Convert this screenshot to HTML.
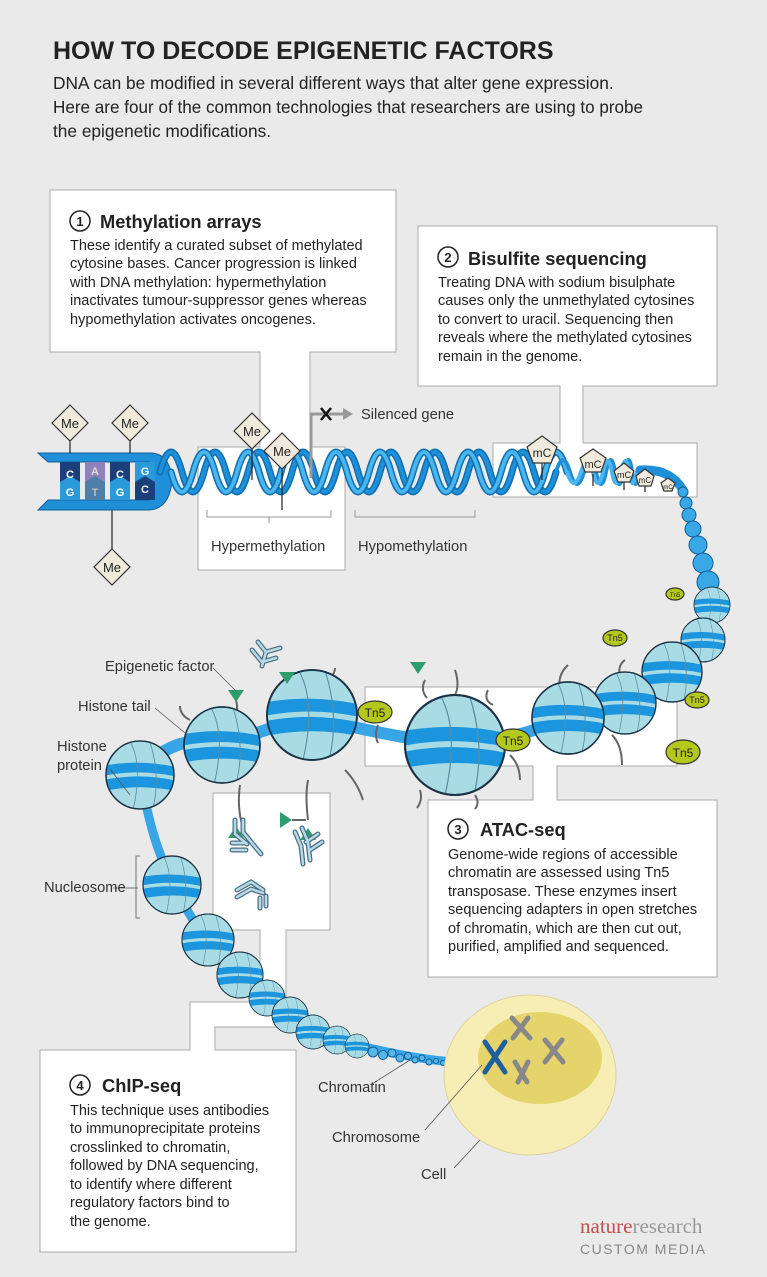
<!DOCTYPE html>
<html><head><meta charset="utf-8"><style>
html,body{margin:0;padding:0;background:#ebeaea}
svg{display:block}
text{font-family:"Liberation Sans",sans-serif;fill:#222}
.b{font-size:14.5px}
.h{font-size:18.3px;font-weight:bold}
.l{font-size:14.7px;fill:#333}
</style></head><body>
<svg width="767" height="1277" viewBox="0 0 767 1277" xmlns="http://www.w3.org/2000/svg">
<rect width="767" height="1277" fill="#ebeaea"/>
<text x="53" y="59" style="font-size:25px;font-weight:bold">HOW TO DECODE EPIGENETIC FACTORS</text>
<text x="53" y="89" style="font-size:17.3px">DNA can be modified in several different ways that alter gene expression.</text>
<text x="53" y="113" style="font-size:17.1px">Here are four of the common technologies that researchers are using to probe</text>
<text x="53" y="137" style="font-size:17.3px">the epigenetic modifications.</text>

<g fill="#fff" stroke="#aaa" stroke-width="1">
<path d="M50 190H396V352H310V447H345V570H198V447H260V352H50Z"/>
<path d="M418 226H717V386H583V443H697V497H493V443H560V386H418Z"/>
<path d="M365 687H677V766H557V800H717V977H428V800H533V766H365Z"/>
<path d="M213 793H330V930H286V1027H215V1050H296V1252H40V1050H190V1002H260V930H213Z"/>
</g>

<circle cx="80" cy="221" r="10" fill="#fff" stroke="#222" stroke-width="1.5"/><text x="80" y="226" text-anchor="middle" style="font-size:13px;font-weight:bold">1</text>
<text x="100" y="228" class="h">Methylation arrays</text>
<text x="70" y="250" class="b">These identify a curated subset of methylated</text>
<text x="70" y="268" class="b">cytosine bases. Cancer progression is linked</text>
<text x="70" y="287" class="b">with DNA methylation: hypermethylation</text>
<text x="70" y="305" class="b">inactivates tumour-suppressor genes whereas</text>
<text x="70" y="324" class="b">hypomethylation activates oncogenes.</text>

<circle cx="448" cy="257" r="10" fill="#fff" stroke="#222" stroke-width="1.5"/><text x="448" y="262" text-anchor="middle" style="font-size:13px;font-weight:bold">2</text>
<text x="468" y="265" class="h">Bisulfite sequencing</text>
<text x="438" y="287" class="b">Treating DNA with sodium bisulphate</text>
<text x="438" y="305" class="b">causes only the unmethylated cytosines</text>
<text x="438" y="324" class="b">to convert to uracil. Sequencing then</text>
<text x="438" y="342" class="b">reveals where the methylated cytosines</text>
<text x="438" y="361" class="b">remain in the genome.</text>

<circle cx="458" cy="829" r="10" fill="#fff" stroke="#222" stroke-width="1.5"/><text x="458" y="834" text-anchor="middle" style="font-size:13px;font-weight:bold">3</text>
<text x="480" y="836" class="h">ATAC-seq</text>
<text x="448" y="859" class="b">Genome-wide regions of accessible</text>
<text x="448" y="877" class="b">chromatin are assessed using Tn5</text>
<text x="448" y="896" class="b">transposase. These enzymes insert</text>
<text x="448" y="914" class="b">sequencing adapters in open stretches</text>
<text x="448" y="933" class="b">of chromatin, which are then cut out,</text>
<text x="448" y="951" class="b">purified, amplified and sequenced.</text>

<circle cx="80" cy="1085" r="10" fill="#fff" stroke="#222" stroke-width="1.5"/><text x="80" y="1090" text-anchor="middle" style="font-size:13px;font-weight:bold">4</text>
<text x="102" y="1092" class="h">ChIP-seq</text>
<text x="70" y="1115" class="b">This technique uses antibodies</text>
<text x="70" y="1133" class="b">to immunoprecipitate proteins</text>
<text x="70" y="1152" class="b">crosslinked to chromatin,</text>
<text x="70" y="1170" class="b">followed by DNA sequencing,</text>
<text x="70" y="1189" class="b">to identify where different</text>
<text x="70" y="1207" class="b">regulatory factors bind to</text>
<text x="70" y="1226" class="b">the genome.</text>

<!-- DNA ladder -->
<path d="M38 453H150Q170 453 172 480Q170 508 150 510H38L48 500H150V462H48Z" fill="#1f8fd8" stroke="#145f99" stroke-width="1"/>
<g>
<path d="M60 462h20v22l-10 -6l-10 6z" fill="#1b3f7a"/>
<path d="M85 462h20v22l-10 -6l-10 6z" fill="#8f82b8"/>
<path d="M110 462h20v22l-10 -6l-10 6z" fill="#1b3f7a"/>
<path d="M135 462h20v22l-10 -6l-10 6z" fill="#2a9ad8"/>
<path d="M60 500h20v-18l-10 -6l-10 6z" fill="#2a9ad8"/>
<path d="M85 500h20v-18l-10 -6l-10 6z" fill="#4f7ea8"/>
<path d="M110 500h20v-18l-10 -6l-10 6z" fill="#2a9ad8"/>
<path d="M135 500h20v-18l-10 -6l-10 6z" fill="#1b3f7a"/>
</g>
<g style="font-size:11px;font-weight:bold" text-anchor="middle">
<text x="70" y="478" style="fill:#fff">C</text><text x="95" y="475" style="fill:#ddd">A</text><text x="120" y="478" style="fill:#fff">C</text><text x="145" y="475" style="fill:#fff">G</text>
<text x="70" y="496" style="fill:#fff">G</text><text x="95" y="496" style="fill:#bbb">T</text><text x="120" y="496" style="fill:#fff">G</text><text x="145" y="493" style="fill:#fff">C</text>
</g>

<!-- helix -->
<g fill="none" stroke-linecap="round">
<path d="M160 472Q171 432 182 472T204 472T226 472T248 472T270 472T292 472T314 472T336 472T358 472T380 472T402 472T424 472T446 472T468 472T490 472T512 472T534 472T556 472" stroke="#0f6fb0" stroke-width="7"/>
<path d="M160 472Q171 432 182 472T204 472T226 472T248 472T270 472T292 472T314 472T336 472T358 472T380 472T402 472T424 472T446 472T468 472T490 472T512 472T534 472T556 472" stroke="#1f8fd8" stroke-width="4"/>
<path d="M171 472Q182 512 193 472T215 472T237 472T259 472T281 472T303 472T325 472T347 472T369 472T391 472T413 472T435 472T457 472T479 472T501 472T523 472T545 472T567 472" stroke="#0f6fb0" stroke-width="7"/>
<path d="M171 472Q182 512 193 472T215 472T237 472T259 472T281 472T303 472T325 472T347 472T369 472T391 472T413 472T435 472T457 472T479 472T501 472T523 472T545 472T567 472" stroke="#4ab6ee" stroke-width="4"/>
<path d="M556 472Q563 448 570 472T584 472T596 472T606 472T615 472T624 472T632 472T640 472" stroke="#1f8fd8" stroke-width="4"/>
<path d="M567 472Q574 494 581 472T593 472T603 472T612 472T621 472T629 472T637 472" stroke="#4ab6ee" stroke-width="4"/>
<path d="M640 470Q670 468 683 490" stroke="#1f8fd8" stroke-width="9"/>
</g>
<g fill="#3aa8e6" stroke="#0f5f95" stroke-width="1">
<circle cx="683" cy="492" r="5"/><circle cx="686" cy="503" r="6"/><circle cx="689" cy="515" r="7"/><circle cx="693" cy="529" r="8"/><circle cx="698" cy="545" r="9"/><circle cx="703" cy="563" r="10"/><circle cx="708" cy="582" r="11"/>
</g>

<!-- Me diamonds -->
<g stroke="#222" stroke-width="1.2">
<line x1="70" y1="436" x2="70" y2="453"/><line x1="130" y1="436" x2="130" y2="453"/><line x1="112" y1="510" x2="112" y2="550"/>
<line x1="252" y1="445" x2="252" y2="480"/><line x1="282" y1="466" x2="282" y2="510"/>
</g>
<g fill="#efeadb" stroke="#333" stroke-width="1.2">
<path d="M70 405l18 18-18 18-18-18z"/><path d="M130 405l18 18-18 18-18-18z"/><path d="M112 549l18 18-18 18-18-18z"/>
<path d="M252 413l18 18-18 18-18-18z"/><path d="M282 433l18 18-18 18-18-18z"/>
</g>
<g style="font-size:13px" text-anchor="middle"><text x="70" y="428">Me</text><text x="130" y="428">Me</text><text x="112" y="572">Me</text><text x="252" y="436">Me</text><text x="282" y="456">Me</text></g>
<path d="M311 478V414H345" fill="none" stroke="#999" stroke-width="3"/>
<path d="M343 408l10 6-10 6z" fill="#999"/>
<path d="M321 408l10 12M331 408l-10 12" stroke="#111" stroke-width="2.5"/>
<text x="361" y="419" class="l">Silenced gene</text>
<path d="M207 510v7h124v-7M269 517v6" fill="none" stroke="#999"/>
<path d="M355 510v7h120v-7" fill="none" stroke="#999"/>
<text x="211" y="551" class="l">Hypermethylation</text>
<text x="358" y="551" class="l">Hypomethylation</text>

<!-- mC -->
<g stroke="#222" stroke-width="1.2"><line x1="542" y1="460" x2="542" y2="480"/><line x1="593" y1="474" x2="593" y2="486"/><line x1="624" y1="480" x2="624" y2="490"/><line x1="645" y1="485" x2="645" y2="492"/></g>
<g fill="#efeadb" stroke="#333" stroke-width="1.2">
<path d="M542 436l15 11-6 16h-18l-6-16z"/><path d="M593 449l13 9-5 14h-16l-5-14z"/><path d="M624 463l10 8-4 11h-12l-4-11z"/><path d="M645 469l9 7-3 10h-12l-3-10z"/><path d="M668 478l7 5-3 8h-8l-3-8z"/>
</g>
<g text-anchor="middle"><text x="542" y="457" style="font-size:12px">mC</text><text x="593" y="468" style="font-size:11px">mC</text><text x="624" y="478" style="font-size:9px">mC</text><text x="645" y="483" style="font-size:8px">mC</text><text x="668" y="489" style="font-size:6px">mC</text></g>

<!-- linker DNA -->
<path d="M140 770Q180 730 225 745Q260 730 312 717Q380 735 455 745Q520 740 572 715Q610 710 625 700Q660 690 670 670Q690 650 700 640Q705 620 712 605" fill="none" stroke="#37a5e6" stroke-width="12"/>
<path d="M140 770Q150 840 172 880Q190 920 208 940Q230 965 240 975Q260 990 268 998Q320 1030 360 1046Q420 1060 455 1062" fill="none" stroke="#37a5e6" stroke-width="9"/>

<!-- tails -->
<g fill="none" stroke="#666" stroke-width="2">
<path d="M236 700q3 10-2 20"/><path d="M290 684q-5 10 0 20"/><path d="M190 720q-10-5-10-14"/><path d="M330 678q5-5 5-10"/><path d="M308 780q-3 15 0 40"/><path d="M345 770q12 12 18 30"/>
<path d="M425 680q-5 10 2 18"/><path d="M455 670q5 15 0 25"/><path d="M488 690q-5 10 5 15"/><path d="M378 725q-4 10 0 18"/><path d="M420 790q3 10 -3 18"/><path d="M475 795q5 8 0 14"/><path d="M510 755q10 10 10 25"/><path d="M560 690q-3-15 8-25"/><path d="M620 680q-3-15 5-20"/><path d="M612 735q10 10 10 30"/>
<path d="M240 785q-3 20 2 40"/>
</g>

<!-- nucleosomes -->
<defs>
<clipPath id="c1"><circle r="1"/></clipPath>
<g id="nuc">
<circle r="1" fill="#a9dbe5" stroke="#1b3344" stroke-width="0.04"/>
<g clip-path="url(#c1)">
<path d="M-1.2 -0.25Q0 -0.5 1.2 -0.2V0.08Q0 -0.22 -1.2 0.05Z" fill="#1b95dd"/>
<path d="M-1.2 0.17Q0 -0.1 1.2 0.2V0.5Q0 0.22 -1.2 0.5Z" fill="#1b95dd"/>
<path d="M-0.3 -1Q0.1 -0.3 -0.2 1M0.3 -0.95Q0.6 0 0.4 0.9" fill="none" stroke="#5a8ea0" stroke-width="0.025"/>
</g>
<circle r="1" fill="none" stroke="#1b3344" stroke-width="0.04"/>
</g>
</defs>
<g>
<use href="#nuc" transform="translate(712,605) scale(18)"/>
<use href="#nuc" transform="translate(703,640) scale(22)"/>
<use href="#nuc" transform="translate(672,672) scale(30)"/>
<use href="#nuc" transform="translate(625,703) scale(31)"/>
<use href="#nuc" transform="translate(568,718) scale(36)"/>
<use href="#nuc" transform="translate(455,745) scale(50)"/>
<use href="#nuc" transform="translate(312,715) scale(45)"/>
<use href="#nuc" transform="translate(222,745) scale(38)"/>
<use href="#nuc" transform="translate(140,775) scale(34)"/>
<use href="#nuc" transform="translate(172,885) scale(29)"/>
<use href="#nuc" transform="translate(208,940) scale(26)"/>
<use href="#nuc" transform="translate(240,975) scale(23)"/>
<use href="#nuc" transform="translate(267,998) scale(18)"/>
<use href="#nuc" transform="translate(290,1015) scale(18)"/>
<use href="#nuc" transform="translate(313,1032) scale(17)"/>
<use href="#nuc" transform="translate(337,1040) scale(14)"/>
<use href="#nuc" transform="translate(357,1046) scale(12)"/>
</g>
<g fill="#58b6e8" stroke="#0f5f95" stroke-width="1">
<circle cx="373" cy="1052" r="5"/><circle cx="383" cy="1055" r="4.5"/><circle cx="392" cy="1053" r="4"/><circle cx="400" cy="1058" r="4"/><circle cx="408" cy="1056" r="3.5"/><circle cx="415" cy="1060" r="3"/><circle cx="422" cy="1058" r="3"/><circle cx="429" cy="1062" r="3"/><circle cx="436" cy="1061" r="2.5"/><circle cx="443" cy="1063" r="2.5"/><circle cx="449" cy="1062" r="2.5"/>
</g>

<!-- triangles -->
<g fill="#2e9d6c">
<path d="M228 690h16l-8 12z"/><path d="M279 672h16l-8 12z"/><path d="M410 662h16l-8 12z"/>
<path d="M280 812v16l12-8z"/><path d="M300 840h16l-8-12z"/><path d="M228 838h16l-8-12z"/>
</g>
<line x1="292" y1="820" x2="306" y2="820" stroke="#333" stroke-width="1.5"/>

<!-- antibodies -->
<g fill="none" stroke="#4a6f84" stroke-width="5" stroke-linecap="round">
<path d="M258 642l8 10l-4 14M266 652l14-4M252 650l10 12M262 662l14-4"/>
<path d="M235 820v14l12 10M243 820v12l18 22M232 843h14M232 850h14"/>
<path d="M295 832l6 14l2 18M302 828l6 14l2 18M306 842l12-8M310 850l12-8"/>
<path d="M237 890l14-8l12 8M237 897l14-8l12 4M260 898v10M266 896v10"/>
</g>
<g fill="none" stroke="#b7d9e8" stroke-width="2.5" stroke-linecap="round">
<path d="M258 642l8 10l-4 14M266 652l14-4M252 650l10 12M262 662l14-4"/>
<path d="M235 820v14l12 10M243 820v12l18 22M232 843h14M232 850h14"/>
<path d="M295 832l6 14l2 18M302 828l6 14l2 18M306 842l12-8M310 850l12-8"/>
<path d="M237 890l14-8l12 8M237 897l14-8l12 4M260 898v10M266 896v10"/>
</g>

<!-- Tn5 -->
<g fill="#b3c81c" stroke="#333" stroke-width="1.2">
<ellipse cx="375" cy="712" rx="17" ry="11"/><ellipse cx="513" cy="740" rx="17" ry="11"/><ellipse cx="683" cy="752" rx="17" ry="12"/>
<ellipse cx="615" cy="638" rx="12" ry="8"/><ellipse cx="697" cy="700" rx="12" ry="8"/><ellipse cx="675" cy="594" rx="9" ry="6"/>
</g>
<g text-anchor="middle"><text x="375" y="717" style="font-size:12px">Tn5</text><text x="513" y="745" style="font-size:12px">Tn5</text><text x="683" y="757" style="font-size:12px">Tn5</text><text x="615" y="641" style="font-size:9px">Tn5</text><text x="697" y="703" style="font-size:9px">Tn5</text><text x="675" y="597" style="font-size:6px">Tn5</text></g>

<!-- cell -->
<ellipse cx="530" cy="1075" rx="86" ry="80" fill="#f6eeb5" stroke="#ddd2a0"/>
<ellipse cx="540" cy="1058" rx="62" ry="46" fill="#e5d46c"/>
<g stroke-linecap="round" stroke-width="5" fill="none">
<path d="M485 1042l20 30M505 1042l-20 30" stroke="#1f5f9e"/>
<path d="M512 1018l18 20M528 1018l-15 20" stroke="#888"/>
<path d="M545 1040l18 22M562 1040l-17 22" stroke="#888"/>
<path d="M515 1062l12 20M528 1062l-10 20" stroke="#888"/>
</g>

<g stroke="#555" stroke-width="0.8" fill="none">
<line x1="213" y1="668" x2="236" y2="691"/><line x1="155" y1="708" x2="185" y2="733"/><line x1="110" y1="769" x2="130" y2="795"/>
<path d="M113 888h25M140 856h-4v62h4"/>
<line x1="372" y1="1084" x2="410" y2="1060"/><line x1="425" y1="1130" x2="482" y2="1065"/><line x1="454" y1="1168" x2="480" y2="1140"/>
</g>
<text x="105" y="671" class="l">Epigenetic factor</text>
<text x="78" y="711" class="l">Histone tail</text>
<text x="57" y="751" class="l">Histone</text>
<text x="57" y="770" class="l">protein</text>
<text x="44" y="892" class="l">Nucleosome</text>
<text x="318" y="1092" class="l">Chromatin</text>
<text x="332" y="1142" class="l">Chromosome</text>
<text x="421" y="1179" class="l">Cell</text>

<text x="580" y="1233" style="font-family:'Liberation Serif',serif;font-size:21px;fill:#c0504d">nature<tspan style="fill:#999">research</tspan></text>
<text x="580" y="1254" style="font-size:14px;fill:#888;letter-spacing:1.5px">CUSTOM MEDIA</text>
</svg>
</body></html>
